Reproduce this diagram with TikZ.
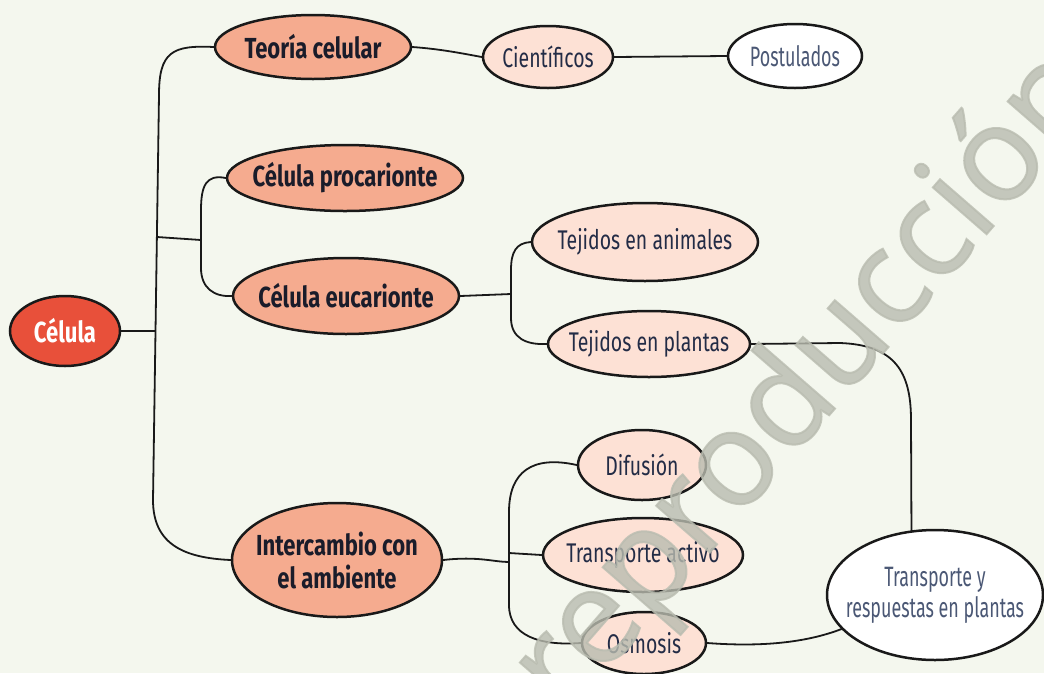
\documentclass[tikz,border=0pt]{standalone}
\usepackage{fontspec}
\usetikzlibrary{shapes.geometric}
\newfontfamily\ffm[FakeStretch=0.76]{Fira Sans}
\newfontfamily\ffs[FakeStretch=0.72]{Fira Sans}
\newfontfamily\ffl[FakeStretch=0.64]{Fira Sans}
\newfontfamily\wmfont[FakeBold=1.5]{Open Sans}
\definecolor{bg}{HTML}{F4F7EE}
\definecolor{cred}{HTML}{E8503A}
\definecolor{csal}{HTML}{F5AB8F}
\definecolor{cpink}{HTML}{FDE1D5}
\definecolor{ctxt}{HTML}{1A1C2A}
\definecolor{ctxtb}{HTML}{232C46}
\definecolor{ctxtw}{HTML}{4B5875}
\definecolor{cwm}{HTML}{B9BCB0}
\tikzset{
  bub/.style={ellipse, draw=black!90, line width=2.5pt, inner sep=0pt},
  rootb/.style={bub, fill=cred},
  mainb/.style={bub, fill=csal},
  subb/.style={bub, fill=cpink},
  leafb/.style={bub, fill=white},
  troot/.style={font=\ffm\bfseries\fontsize{29}{32}\selectfont, text=white, inner sep=0pt},
  tmain/.style={font=\ffm\bfseries\fontsize{29}{33}\selectfont, text=ctxt, inner sep=0pt, align=center},
  tsub/.style={font=\ffs\fontsize{27}{30}\selectfont, text=ctxtb, inner sep=0pt, align=center},
  tleaf/.style={font=\ffl\fontsize{28}{31}\selectfont, text=ctxtw, inner sep=0pt, align=center},
  conn/.style={draw=black!90, line width=1.8pt, line cap=round, line join=round},
}
\begin{document}
\begin{tikzpicture}[x=1pt,y=-1pt]
\fill[bg] (0,0) rectangle (1044,673);
\useasboundingbox (0,0) rectangle (1044,673);

% nodes
\node[rootb, minimum width=110, minimum height=70, label={[troot]center:Célula}] (celula) at (65,331) {};
\node[mainb, minimum width=196, minimum height=64, label={[tmain]center:Teoría celular}] (teoria) at (313,47) {};
\node[subb, minimum width=130, minimum height=62, label={[tsub]center:Científicos}] (cien) at (548,57) {};
\node[leafb, minimum width=134, minimum height=64, label={[tleaf]center:Postulados}] (post) at (795,56) {};
\node[mainb, minimum width=236, minimum height=66, label={[tmain]center:Célula procarionte}] (proc) at (345,178) {};
\node[mainb, minimum width=226, minimum height=76, label={[tmain]center:Célula eucarionte}] (euc) at (346,296) {};
\node[subb, minimum width=226, minimum height=78, label={[tsub]center:Tejidos en animales}] (anim) at (645,242) {};
\node[subb, minimum width=202, minimum height=66, label={[tsub]center:Tejidos en plantas}] (plant) at (649,344) {};
\node[mainb, minimum width=210, minimum height=114, label={[tmain]center:Intercambio con\\el ambiente}] (inter) at (337,560) {};
\node[subb, minimum width=128, minimum height=70, label={[tsub]center:Difusión}] (dif) at (642,465) {};
\node[subb, minimum width=200, minimum height=74, label={[tsub]center:Transporte activo}] (ta) at (643,555) {};
\node[subb, minimum width=124, minimum height=62, label={[tsub]center:Osmosis}] (osm) at (644,643) {};
\node[leafb, minimum width=216, minimum height=130, label={[tleaf]center:Transporte y\\respuestas en plantas}] (trp) at (935,595) {};

% junction coordinates
\coordinate (j1) at (155,331);
\coordinate (j2) at (157,237);
\coordinate (k2) at (201,240);
\coordinate (k3) at (511,294);
\coordinate (k4) at (509,562);

% connectors
\draw[conn] (teoria.west) .. controls (172,45) and (159,52) .. (159,95) -- (153,500) .. controls (153,545) and (185,558) .. (inter.west);
\draw[conn] (celula.east) -- (j1);
\draw[conn] (j2) -- (k2);
\draw[conn] (proc.west) .. controls (206,174) and (201,186) .. (201,210) -- (201,268) .. controls (201,288) and (214,297) .. (euc.west);
\draw[conn] (teoria.east) .. controls (440,49) and (460,53) .. (cien.west);
\draw[conn] (cien.east) -- (post.west);
\draw[conn] (euc.east) -- (k3);
\draw[conn] (anim.west) .. controls (516,243) and (511,252) .. (511,270) -- (511,318) .. controls (511,338) and (526,345) .. (plant.west);
\draw[conn] (plant.east) -- (840,343) .. controls (895,345) and (911,372) .. (911,420) -- (trp.110);
\draw[conn] (inter.east) .. controls (478,556) and (494,562) .. (k4);
\draw[conn] (dif.west) .. controls (532,455) and (509,472) .. (509,512) -- (509,605) .. controls (509,636) and (540,646) .. (osm.west);
\draw[conn] (ta.west) -- (509,553);
\draw[conn] (osm.east) .. controls (760,647) and (805,643) .. (trp.200);

% watermark
\begin{scope}
\clip (0,0) rectangle (1044,673);
\node[rotate=49, anchor=base west, inner sep=0pt, text=cwm, opacity=0.8, font=\wmfont\fontsize{133}{133}\selectfont] (wm) at (566,718) {reproducción};
\end{scope}
\end{tikzpicture}
\end{document}
